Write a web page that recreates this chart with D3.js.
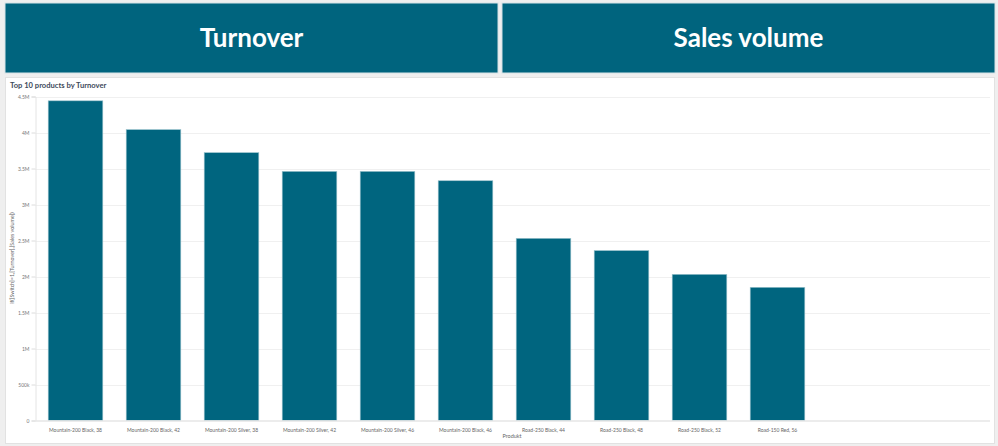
<!DOCTYPE html>
<html>
<head>
<meta charset="utf-8">
<script src="https://cdn.jsdelivr.net/npm/d3@7"></script>
<style>
html,body{margin:0;padding:0;background:#efefef;}
svg{display:block;}
</style>
</head>
<body>
<svg id="chart" width="998" height="446"></svg>
<script>
const headers = ["Turnover", "Sales volume"];
const categories = ["Mountain-200 Black, 38", "Mountain-200 Black, 42", "Mountain-200 Silver, 38", "Mountain-200 Silver, 42", "Mountain-200 Silver, 46", "Mountain-200 Black, 46", "Road-250 Black, 44", "Road-250 Black, 48", "Road-250 Black, 52", "Road-150 Red, 56"];
const turnover = [4440000, 4040000, 3720000, 3460000, 3460000, 3330000, 2530000, 2360000, 2030000, 1850000];
const yTicks = [0, 500000, 1000000, 1500000, 2000000, 2500000, 3000000, 3500000, 4000000, 4500000];
const yTickLabels = ["0", "500k", "1M", "1.5M", "2M", "2.5M", "3M", "3.5M", "4M", "4.5M"];
const chartTitle = "Top 10 products by Turnover";
const xTitle = "Produkt";
const yTitle = "if([Switch]=1,[Turnover],[Sales volume])";

const svg = d3.select("#chart");
const teal = "#00647e";
const font = "Lato, 'Open Sans', sans-serif";

// header panels
const hx = d3.scaleBand().domain(headers).range([5, 995]).paddingInner(0.008);
const hg = svg.selectAll("g.hdr").data(headers).enter().append("g").attr("class","hdr");
hg.append("rect").attr("x", d => hx(d)).attr("y", 3).attr("width", hx.bandwidth()).attr("height", 70)
  .attr("fill", teal).attr("stroke", "#d6e3e7").attr("stroke-width", 1);
hg.append("text").attr("x", d => hx(d) + hx.bandwidth()/2).attr("y", 47)
  .attr("text-anchor","middle").attr("fill","#fff").attr("font-family", font)
  .attr("font-weight","bold").attr("font-size", 26).text(d => d);

// chart card
svg.append("rect").attr("x", 5.5).attr("y", 77.5).attr("width", 989).attr("height", 366)
  .attr("fill","#fff").attr("stroke","#e2e2e2");
svg.append("text").attr("x", 10).attr("y", 88).attr("fill","#3d4a5c").attr("font-family", font)
  .attr("font-weight","bold").attr("font-size", 7.6).text(chartTitle);

const y = d3.scaleLinear().domain([0, 4500000]).range([420.5, 96.5]);
const x = d3.scaleBand().domain(categories).range([36.5, 816.5]).paddingInner(0.3).paddingOuter(0.15);

// gridlines
svg.append("g").selectAll("line").data(yTicks.slice(1)).enter().append("line")
  .attr("x1", 35.5).attr("x2", 990).attr("y1", d => Math.round(y(d))+0.5).attr("y2", d => Math.round(y(d))+0.5)
  .attr("stroke","#f0f0f0").attr("stroke-width",1);

// y axis
const yAxis = d3.axisLeft(y).tickValues(yTicks).tickFormat((d,i) => yTickLabels[i]).tickSize(4).tickPadding(2);
const ya = svg.append("g").attr("transform","translate(35.5,0)").call(yAxis);
ya.select(".domain").attr("stroke","#e4e4e4");
ya.selectAll(".tick line").attr("stroke","#dcdcdc");
ya.selectAll(".tick text").attr("fill","#777").attr("font-family", font).attr("font-size", 5);

svg.append("text").attr("transform","translate(14,258) rotate(-90)").attr("text-anchor","middle")
  .attr("fill","#666").attr("font-family", font).attr("font-size", 5.4).text(yTitle);

// bars
svg.append("g").selectAll("rect").data(categories).enter().append("rect")
  .attr("x", d => x(d)).attr("width", x.bandwidth())
  .attr("y", (d,i) => y(turnover[i])).attr("height", (d,i) => y(0) - y(turnover[i]))
  .attr("fill", "#00657f").attr("stroke","#9cc3cd").attr("stroke-width",0.6);

// x axis
const xAxis = d3.axisBottom(x).tickSize(0).tickPadding(8);
const xa = svg.append("g").attr("transform","translate(0,420.5)").call(xAxis);
xa.select(".domain").remove();
svg.append("line").attr("x1",35.5).attr("x2",990).attr("y1",421).attr("y2",421).attr("stroke","#e6e6e6").attr("stroke-width",1.5);
xa.selectAll(".tick text").attr("fill","#666").attr("font-family", font).attr("font-size", 5);

svg.append("text").attr("x", 512).attr("y", 438).attr("text-anchor","middle")
  .attr("fill","#666").attr("font-family", font).attr("font-size", 5.5).text(xTitle);
</script>
</body>
</html>
